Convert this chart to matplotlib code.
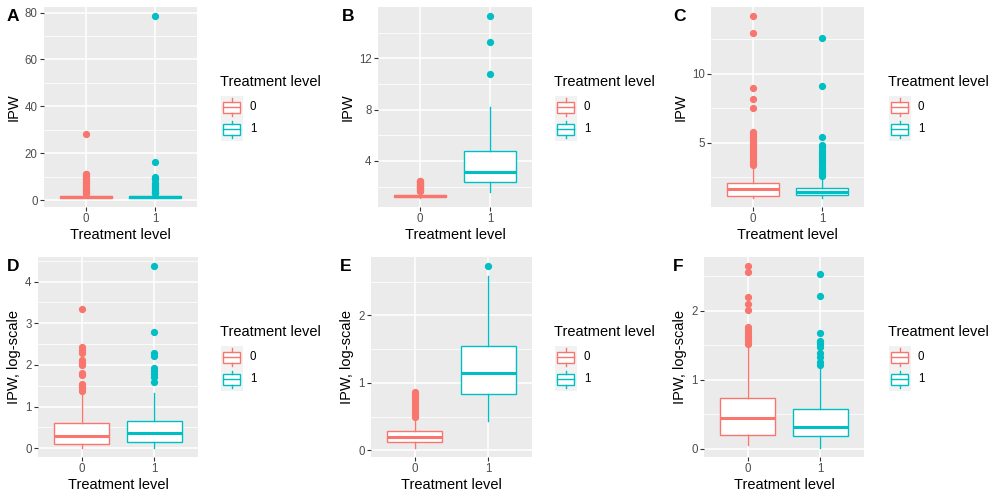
import matplotlib
matplotlib.use("Agg")
import matplotlib.pyplot as plt
from matplotlib.patches import Rectangle

plt.rcParams['font.family'] = ['Liberation Sans', 'DejaVu Sans']

# box stats per group: [whisker low, q1, median, q3, whisker high]
a0_box = [1.0, 1.1, 1.4, 1.9, 2.9]
a0_out = [3.0, 3.3, 3.6, 4.0, 4.4, 4.9, 5.4, 6.0, 6.6, 7.2, 7.9, 8.5, 9.2,
          9.8, 10.4, 11.0, 11.4, 28.3]
a1_box = [1.0, 1.1, 1.4, 1.9, 2.8]
a1_out = [2.9, 3.2, 3.6, 4.1, 4.7, 5.3, 6.0, 6.6, 7.2, 9.0, 9.6, 10.0,
          16.2, 78.5]

b0_box = [1.12, 1.18, 1.25, 1.35, 1.6]
b0_out = [1.62, 1.68, 1.74, 1.8, 1.86, 1.92, 1.98, 2.04, 2.1, 2.16, 2.22,
          2.28, 2.34, 2.4, 2.45]
b1_box = [1.6, 2.38, 3.16, 4.78, 8.18]
b1_out = [10.78, 13.3, 15.3]

c0_box = [1.0, 1.16, 1.62, 2.06, 3.26]
c0_out = [3.35, 3.5, 3.65, 3.8, 3.95, 4.1, 4.25, 4.4, 4.55, 4.7, 4.85, 5.0,
          5.15, 5.3, 5.45, 5.6, 5.75, 7.49, 8.14, 8.99, 12.97, 14.18]
c1_box = [1.02, 1.21, 1.45, 1.74, 2.54]
c1_out = [2.6, 2.75, 2.9, 3.05, 3.2, 3.35, 3.5, 3.65, 3.8, 3.95, 4.1, 4.3,
          4.5, 4.7, 4.85, 5.41, 9.09, 12.56]

d0_box = [0.01, 0.11, 0.30, 0.60, 1.31]
d0_out = [1.37, 1.42, 1.46, 1.5, 1.54, 1.75, 1.8, 2.0, 2.05, 2.12, 2.28,
          2.35, 2.43, 3.35]
d1_box = [0.01, 0.15, 0.37, 0.66, 1.33]
d1_out = [1.58, 1.72, 1.79, 1.85, 1.92, 2.22, 2.28, 2.80, 4.37]

e0_box = [0.035, 0.12, 0.19, 0.28, 0.47]
e0_out = [0.5, 0.53, 0.56, 0.6, 0.64, 0.68, 0.72, 0.76, 0.8, 0.84, 0.87]
e1_box = [0.44, 0.83, 1.14, 1.55, 2.58]
e1_out = [2.73]

f0_box = [0.05, 0.20, 0.45, 0.73, 1.46]
f0_out = [1.52, 1.56, 1.6, 1.64, 1.68, 1.72, 1.76, 2.01, 2.10, 2.20, 2.56,
          2.65]
f1_box = [0.012, 0.19, 0.32, 0.58, 1.30]
f1_out = [1.22, 1.26, 1.33, 1.39, 1.47, 1.52, 1.55, 1.57, 1.68, 2.21, 2.53]

panel_names = ["A", "B", "C", "D", "E", "F"]
y_labels = ["IPW", "IPW", "IPW", "IPW, log-scale", "IPW, log-scale",
            "IPW, log-scale"]
y_ticks = [[0, 20, 40, 60, 80], [4, 8, 12], [5, 10],
           [0, 1, 2, 3, 4], [0, 1, 2], [0, 1, 2]]
groups = ["0", "1"]
legend_title = "Treatment level"
x_title = "Treatment level"

colors = ["#F8766D", "#00BFC4"]
W, H = 1000, 500

# panel boxes in pixels: left, top, right, bottom
panel_px = [(44, 7, 197, 207), (378, 7, 532, 207), (711, 7, 864, 207),
            (38, 257, 198, 457), (371, 257, 532, 457), (704, 257, 864, 457)]
label_px = [(7, 9), (342, 9), (673, 9), (7, 259), (340, 259), (673, 259)]
legend_left = [220, 554, 888]

boxes = [(a0_box, a0_out, a1_box, a1_out), (b0_box, b0_out, b1_box, b1_out),
         (c0_box, c0_out, c1_box, c1_out), (d0_box, d0_out, d1_box, d1_out),
         (e0_box, e0_out, e1_box, e1_out), (f0_box, f0_out, f1_box, f1_out)]


def make_stats(box, out):
    return dict(whislo=box[0], q1=box[1], med=box[2], q3=box[3],
                whishi=box[4], fliers=out)


fig = plt.figure(figsize=(W / 100, H / 100), dpi=100)
fig.patch.set_facecolor("white")

for i, (l, t, r, b) in enumerate(panel_px):
    ax = fig.add_axes([l / W, 1 - b / H, (r - l) / W, (b - t) / H])
    ax.set_facecolor("#EBEBEB")
    for s in ax.spines.values():
        s.set_visible(False)
    g0b, g0o, g1b, g1o = boxes[i]
    all_vals = g0b + g0o + g1b + g1o
    lo, hi = min(all_vals), max(all_vals)
    pad = (hi - lo) * 0.05
    for k, (bx, ot) in enumerate([(g0b, g0o), (g1b, g1o)]):
        c = colors[k]
        ax.bxp([make_stats(bx, ot)], positions=[k + 1], widths=0.75,
               patch_artist=True, showcaps=False,
               boxprops=dict(facecolor="white", edgecolor=c, lw=1.0),
               whiskerprops=dict(color=c, lw=1.0),
               medianprops=dict(color=c, lw=2.2),
               flierprops=dict(marker="o", markerfacecolor=c,
                               markeredgecolor=c, markersize=4.2))
    ax.set_xlim(0.4, 2.6)
    ax.set_ylim(lo - pad, hi + pad)
    ax.set_xticks([1, 2])
    ax.set_xticklabels(groups)
    yt = y_ticks[i]
    step = yt[1] - yt[0]
    minor = [v - step / 2 for v in yt] + [yt[-1] + step / 2]
    ax.set_yticks(yt)
    ax.set_yticks(minor, minor=True)
    ax.set_yticklabels([str(v) for v in yt])
    ax.set_axisbelow(True)
    ax.grid(which="major", color="white", lw=1.1)
    ax.grid(which="minor", axis="y", color="white", lw=0.55)
    ax.tick_params(which="major", length=2.6, width=0.8, color="#333333",
                   labelcolor="#4D4D4D", labelsize=8.3, pad=2)
    ax.tick_params(which="minor", length=0)
    ax.set_ylim(lo - pad, hi + pad)
    ax.set_xlabel(x_title, fontsize=10.5, labelpad=2)
    ax.set_ylabel(y_labels[i], fontsize=10.5, labelpad=3)
    lx, ly = label_px[i]
    fig.text(lx / W, 1 - ly / H, panel_names[i], fontsize=12.5,
             fontweight="bold", ha="left", va="top")

# legends drawn on an overlay in pixel coordinates
ov = fig.add_axes([0, 0, 1, 1])
ov.set_xlim(0, W)
ov.set_ylim(H, 0)
ov.axis("off")
for row in range(2):
    dy = row * 250
    for lx in legend_left:
        ov.text(lx, 82 + dy, legend_title, fontsize=10.5, ha="left",
                va="center")
        for k in range(2):
            kt = 96 + dy + k * 22.3
            kx = lx + 1
            ov.add_patch(Rectangle((kx, kt), 21.5, 22.3, facecolor="#F2F2F2",
                                   edgecolor="none"))
            c = colors[k]
            ov.add_patch(Rectangle((kx + 2.2, kt + 5.6), 17.1, 11.1,
                                   facecolor="white", edgecolor=c, lw=1.0))
            ov.plot([kx + 10.75, kx + 10.75], [kt + 2.2, kt + 5.6], color=c,
                    lw=1.0)
            ov.plot([kx + 10.75, kx + 10.75], [kt + 16.7, kt + 20.1],
                    color=c, lw=1.0)
            ov.plot([kx + 2.2, kx + 19.3], [kt + 11.15, kt + 11.15], color=c,
                    lw=1.0)
            ov.text(lx + 30, kt + 11.15, groups[k], fontsize=8.3,
                    ha="left", va="center")

fig.savefig("out.png", dpi=100)
